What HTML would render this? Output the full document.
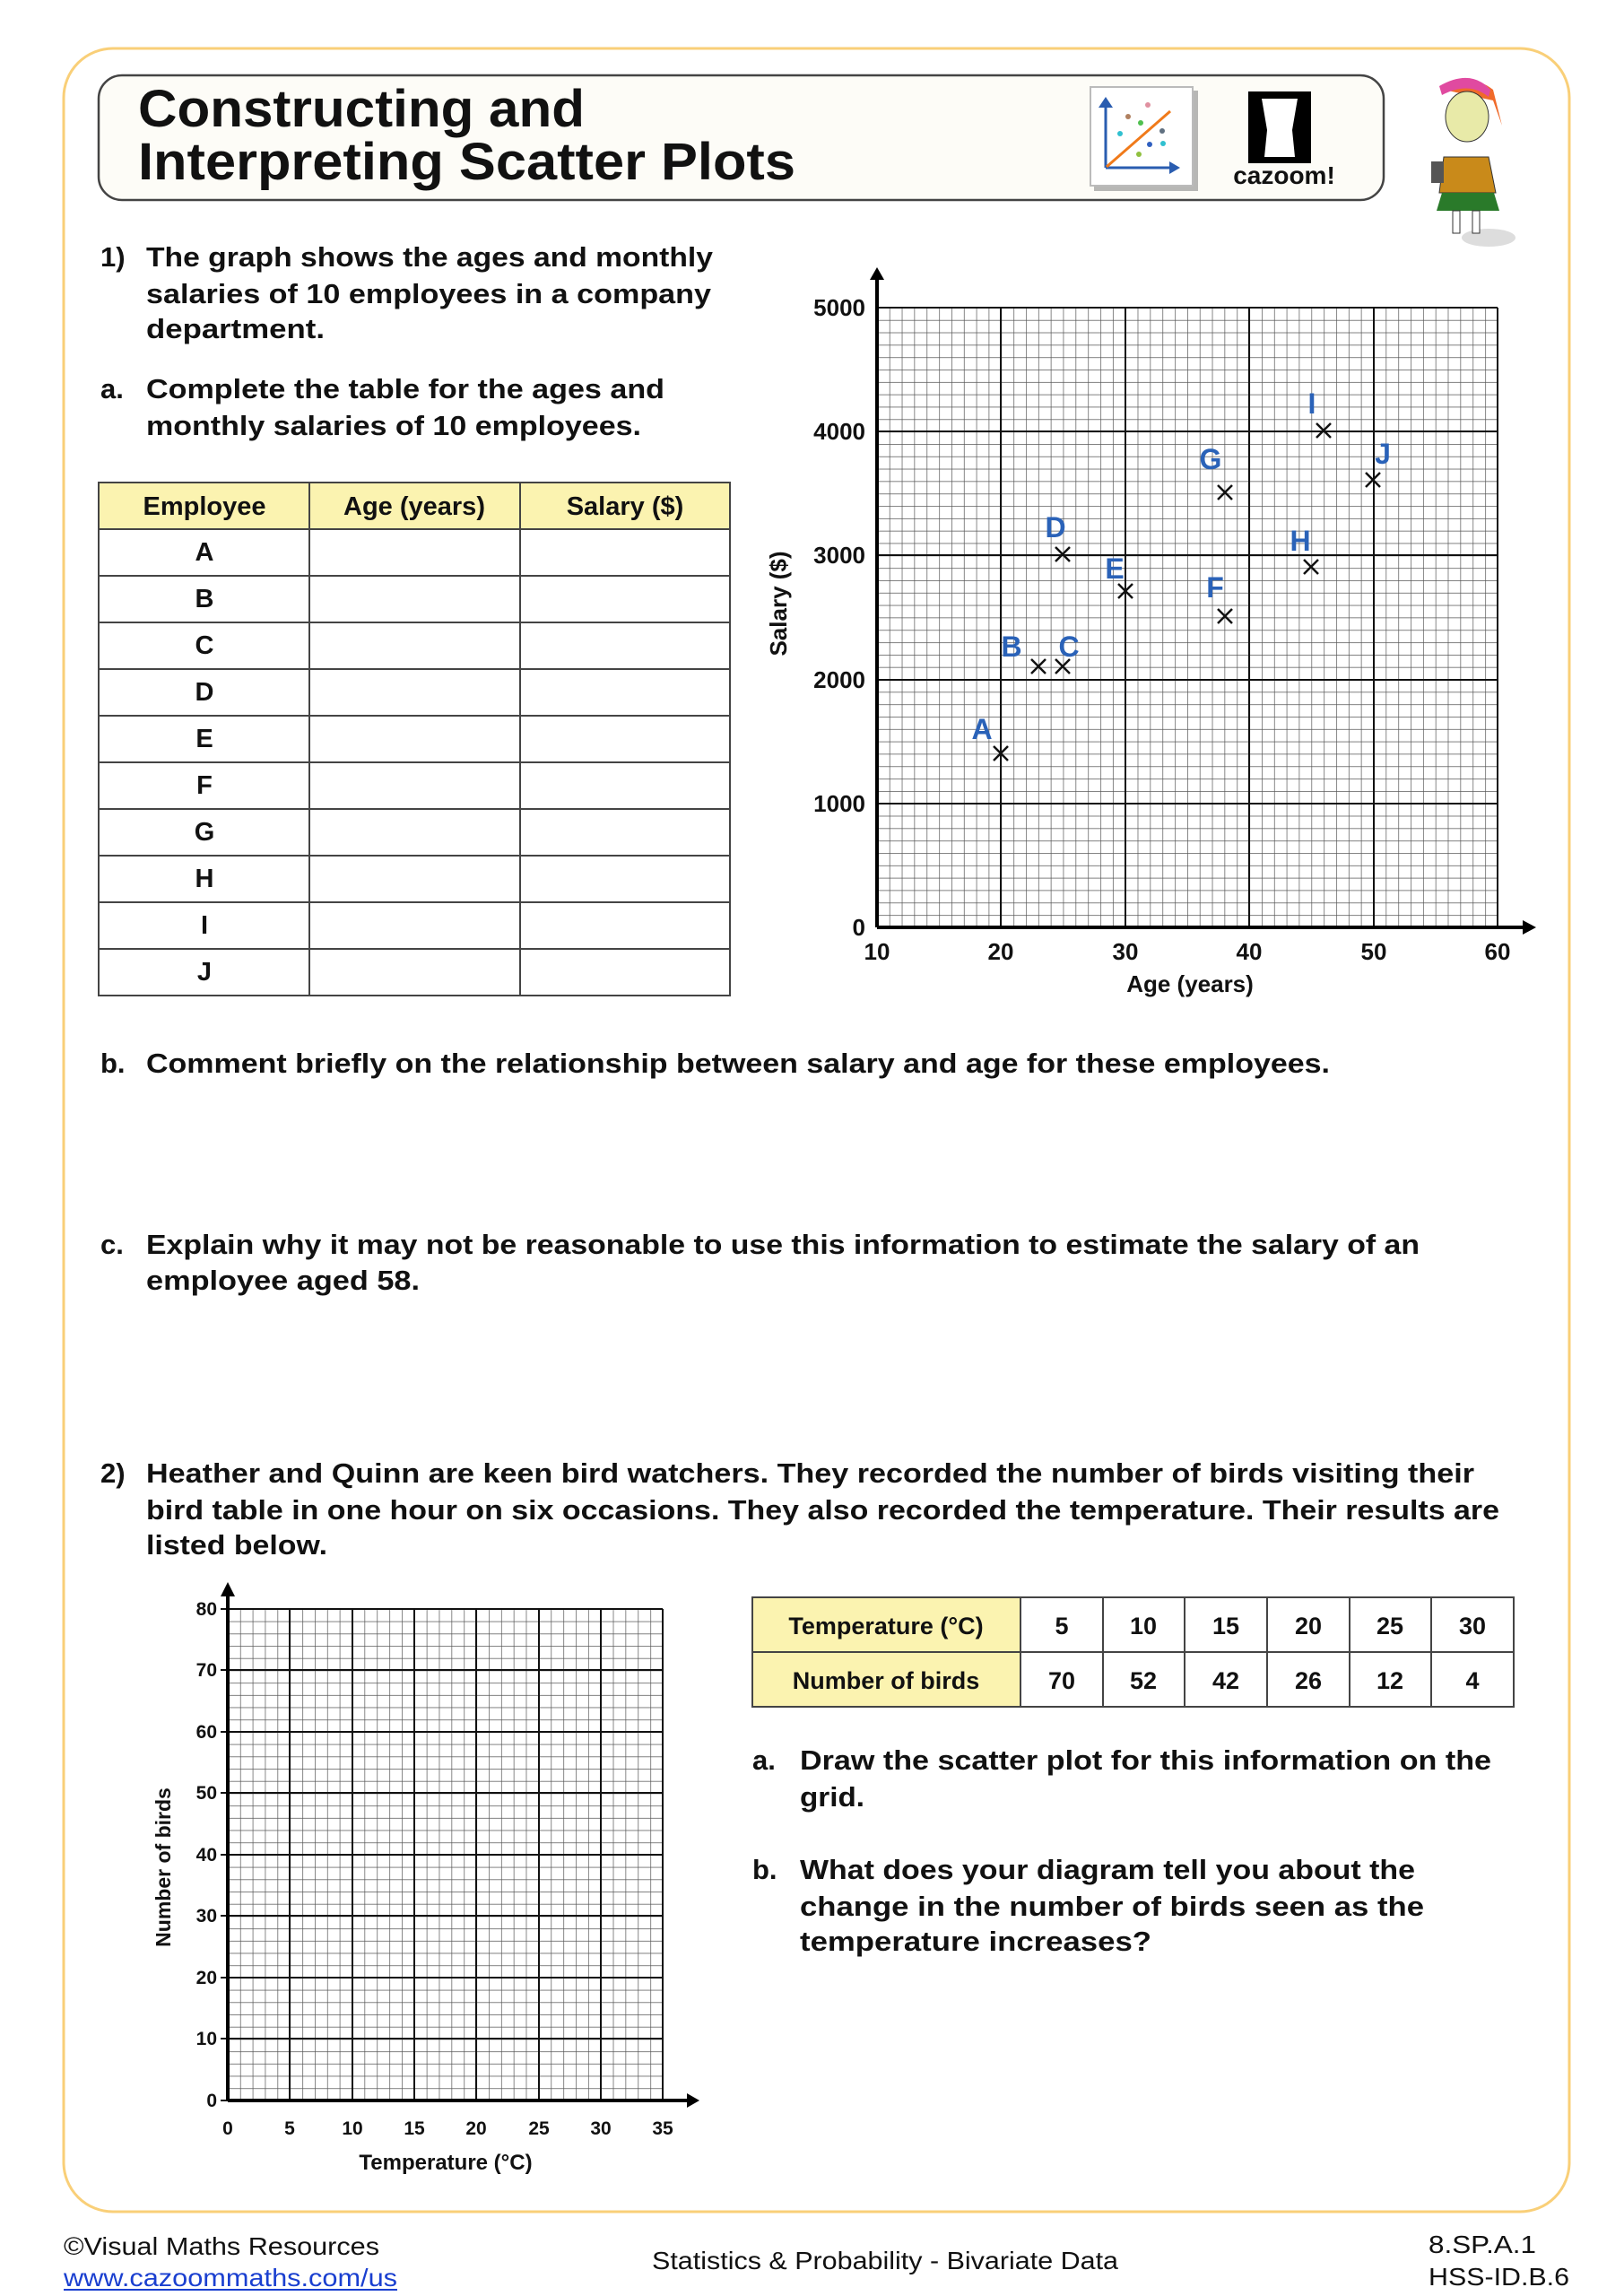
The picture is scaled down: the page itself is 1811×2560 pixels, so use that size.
<!DOCTYPE html>
<html><head><meta charset="utf-8"><style>
html,body{margin:0;padding:0;background:#fff;}
svg{display:block;}
text{font-family:"Liberation Sans",Arial,sans-serif;}
.b{font-weight:bold;fill:#111;}
</style></head><body>
<svg width="1811" height="2560" viewBox="0 0 1811 2560" xmlns="http://www.w3.org/2000/svg">
<defs>
<pattern id="g1" x="978" y="343" width="13.84" height="13.82" patternUnits="userSpaceOnUse">
<path d="M0 0V13.82M0 0H13.84" stroke="#555" stroke-width="1.4" fill="none"/>
</pattern>
<pattern id="g2" x="254" y="1794" width="13.86" height="13.7" patternUnits="userSpaceOnUse">
<path d="M0 0V13.7M0 0H13.86" stroke="#555" stroke-width="1.4" fill="none"/>
</pattern>
</defs>
<rect x="0" y="0" width="1811" height="2560" fill="#fff"/>
<rect x="71" y="54" width="1679" height="2412" rx="55" fill="none" stroke="#f9cf78" stroke-width="3"/>
<rect x="110" y="84" width="1433" height="139" rx="26" fill="#fdfcf7" stroke="#444" stroke-width="2.5"/>
<text class="b" x="154" y="141" font-size="58" textLength="498" lengthAdjust="spacingAndGlyphs">Constructing and</text>
<text class="b" x="154" y="200" font-size="58" textLength="733" lengthAdjust="spacingAndGlyphs">Interpreting Scatter Plots</text>
<rect x="1220" y="101" width="116" height="112" fill="#888" opacity="0.6"/>
<rect x="1216" y="97" width="114" height="110" fill="#fff" stroke="#bbb" stroke-width="2"/>
<path d="M1233 187V118M1233 187H1306" stroke="#2a5db0" stroke-width="3" fill="none"/>
<path d="M1225 120L1233 108L1241 120Z M1304 180L1316 187L1304 194Z" fill="#2a5db0"/>
<line x1="1234" y1="186" x2="1305" y2="124" stroke="#f07a1a" stroke-width="3"/>
<circle cx="1280" cy="117" r="3" fill="#e090a0"/><circle cx="1258" cy="130" r="3" fill="#b08060"/>
<circle cx="1272" cy="137" r="3" fill="#50c050"/><circle cx="1249" cy="149" r="3" fill="#30c0d0"/>
<circle cx="1296" cy="146" r="3" fill="#607080"/><circle cx="1282" cy="161" r="3" fill="#3060c0"/>
<circle cx="1297" cy="160" r="3" fill="#30c0d0"/><circle cx="1270" cy="172" r="3" fill="#90c040"/>
<rect x="1392" y="102" width="70" height="80" fill="#000"/>
<path d="M1407 110H1447L1441 145L1444 175H1410L1413 145Z" fill="#fff"/>
<text x="1432" y="205" font-size="28" font-weight="bold" text-anchor="middle" font-family="Liberation Serif,serif" fill="#111">cazoom!</text>
<ellipse cx="1660" cy="265" rx="30" ry="10" fill="#ddd"/>
<path d="M1610 100Q1640 80 1665 100L1675 140L1665 112Z" fill="#f06a2a"/>
<path d="M1605 96Q1640 76 1662 100L1660 108Q1638 90 1608 106Z" fill="#e04aa0"/>
<ellipse cx="1636" cy="130" rx="24" ry="28" fill="#e8eaa8" stroke="#333"/>
<path d="M1610 175L1660 175L1668 215L1605 215Z" fill="#c98a1a" stroke="#333"/>
<path d="M1608 215L1666 215L1672 235L1602 235Z" fill="#2a7a2a"/>
<rect x="1620" y="235" width="8" height="25" fill="#fff" stroke="#333"/><rect x="1642" y="235" width="8" height="25" fill="#fff" stroke="#333"/>
<rect x="1596" y="180" width="14" height="24" fill="#555"/>
<text class="b" x="112" y="297" font-size="31">1)</text>
<text class="b" x="163" y="297" font-size="31" textLength="632" lengthAdjust="spacingAndGlyphs">The graph shows the ages and monthly</text>
<text class="b" x="163" y="338" font-size="31" textLength="630" lengthAdjust="spacingAndGlyphs">salaries of 10 employees in a company</text>
<text class="b" x="163" y="377" font-size="31" textLength="199" lengthAdjust="spacingAndGlyphs">department.</text>
<text class="b" x="112" y="444" font-size="31">a.</text>
<text class="b" x="163" y="444" font-size="31" textLength="578" lengthAdjust="spacingAndGlyphs">Complete the table for the ages and</text>
<text class="b" x="163" y="485" font-size="31" textLength="552" lengthAdjust="spacingAndGlyphs">monthly salaries of 10 employees.</text>
<rect x="110" y="538" width="704" height="52" fill="#fbf3b0"/>
<g stroke="#444" stroke-width="2" fill="none">
<rect x="110" y="538" width="704" height="572"/>
<path d="M345 538V1110M580 538V1110"/>
<path d="M110 590H814M110 642H814M110 694H814M110 746H814M110 798H814M110 850H814M110 902H814M110 954H814M110 1006H814M110 1058H814"/>
</g>
<g font-size="29" text-anchor="middle" class="b">
<text x="228" y="574" style="font-weight:600">Employee</text>
<text x="462" y="574" style="font-weight:600">Age (years)</text>
<text x="697" y="574" style="font-weight:600">Salary ($)</text>
<text x="228" y="625">A</text><text x="228" y="677">B</text><text x="228" y="729">C</text>
<text x="228" y="781">D</text><text x="228" y="833">E</text><text x="228" y="885">F</text>
<text x="228" y="937">G</text><text x="228" y="989">H</text><text x="228" y="1041">I</text>
<text x="228" y="1093">J</text>
</g>
<rect x="978" y="343" width="692" height="691" fill="url(#g1)"/>
<g stroke="#111" stroke-width="2" fill="none">
<path d="M978 343H1670M1670 343V1034"/>
<path d="M1116 343V1034M1255 343V1034M1393 343V1034M1532 343V1034"/>
<path d="M978 481H1670M978 619H1670M978 758H1670M978 896H1670"/>
</g>
<path d="M978 1034V308M978 1034H1702" stroke="#000" stroke-width="4" fill="none"/>
<path d="M970 312L978 298L986 312Z M1698 1026L1713 1034L1698 1042Z" fill="#000"/>
<g class="b" font-size="26" text-anchor="end">
<text x="965" y="352">5000</text><text x="965" y="490">4000</text><text x="965" y="628">3000</text>
<text x="965" y="767">2000</text><text x="965" y="905">1000</text><text x="965" y="1043">0</text>
</g>
<g class="b" font-size="26" text-anchor="middle">
<text x="978" y="1070">10</text><text x="1116" y="1070">20</text><text x="1255" y="1070">30</text>
<text x="1393" y="1070">40</text><text x="1532" y="1070">50</text><text x="1670" y="1070">60</text>
<text x="1327" y="1106">Age (years)</text>
</g>
<text class="b" font-size="26" text-anchor="middle" transform="translate(877,673) rotate(-90)">Salary ($)</text>
<g stroke="#111" stroke-width="2.5">
<path d="M1108 832l16 16m0 -16l-16 16"/>
<path d="M1150 735l16 16m0 -16l-16 16"/>
<path d="M1177 735l16 16m0 -16l-16 16"/>
<path d="M1177 610l16 16m0 -16l-16 16"/>
<path d="M1247 651l16 16m0 -16l-16 16"/>
<path d="M1358 679l16 16m0 -16l-16 16"/>
<path d="M1358 541l16 16m0 -16l-16 16"/>
<path d="M1454 624l16 16m0 -16l-16 16"/>
<path d="M1468 472l16 16m0 -16l-16 16"/>
<path d="M1523 527l16 16m0 -16l-16 16"/>
</g>
<g font-size="32" font-weight="bold" fill="#2a62b8" text-anchor="middle">
<text x="1095" y="824">A</text><text x="1128" y="732">B</text><text x="1192" y="732">C</text>
<text x="1177" y="599">D</text><text x="1243" y="645">E</text><text x="1355" y="666">F</text>
<text x="1350" y="523">G</text><text x="1450" y="614">H</text><text x="1463" y="461">I</text><text x="1542" y="517">J</text>
</g>
<text class="b" x="112" y="1196" font-size="31">b.</text>
<text class="b" x="163" y="1196" font-size="31" textLength="1320" lengthAdjust="spacingAndGlyphs">Comment briefly on the relationship between salary and age for these employees.</text>
<text class="b" x="112" y="1398" font-size="31">c.</text>
<text class="b" x="163" y="1398" font-size="31" textLength="1420" lengthAdjust="spacingAndGlyphs">Explain why it may not be reasonable to use this information to estimate the salary of an</text>
<text class="b" x="163" y="1438" font-size="31" textLength="305" lengthAdjust="spacingAndGlyphs">employee aged 58.</text>
<text class="b" x="112" y="1653" font-size="31">2)</text>
<text class="b" x="163" y="1653" font-size="31" textLength="1481" lengthAdjust="spacingAndGlyphs">Heather and Quinn are keen bird watchers. They recorded the number of birds visiting their</text>
<text class="b" x="163" y="1694" font-size="31" textLength="1509" lengthAdjust="spacingAndGlyphs">bird table in one hour on six occasions. They also recorded the temperature. Their results are</text>
<text class="b" x="163" y="1733" font-size="31" textLength="202" lengthAdjust="spacingAndGlyphs">listed below.</text>
<rect x="254" y="1794" width="485" height="548" fill="url(#g2)"/>
<g stroke="#111" stroke-width="2" fill="none">
<path d="M254 1794H739M739 1794V2342"/>
<path d="M323 1794V2342M393 1794V2342M462 1794V2342M531 1794V2342M601 1794V2342M670 1794V2342"/>
<path d="M254 1862H739M254 1931H739M254 1999H739M254 2068H739M254 2136H739M254 2205H739M254 2273H739"/>
<path d="M246 1794H254M246 1862H254M246 1931H254M246 1999H254M246 2068H254M246 2136H254M246 2205H254M246 2273H254M246 2342H254"/>
</g>
<path d="M254 2342V1775M254 2342H770" stroke="#000" stroke-width="4" fill="none"/>
<path d="M246 1780L254 1764L262 1780Z M766 2334L780 2342L766 2350Z" fill="#000"/>
<g class="b" font-size="21" text-anchor="end">
<text x="242" y="1801">80</text><text x="242" y="1869">70</text><text x="242" y="1938">60</text>
<text x="242" y="2006">50</text><text x="242" y="2075">40</text><text x="242" y="2143">30</text>
<text x="242" y="2212">20</text><text x="242" y="2280">10</text><text x="242" y="2349">0</text>
</g>
<g class="b" font-size="21" text-anchor="middle">
<text x="254" y="2380">0</text><text x="323" y="2380">5</text><text x="393" y="2380">10</text>
<text x="462" y="2380">15</text><text x="531" y="2380">20</text><text x="601" y="2380">25</text>
<text x="670" y="2380">30</text><text x="739" y="2380">35</text>
<text x="497" y="2419" font-size="24">Temperature (°C)</text>
</g>
<text class="b" font-size="23" text-anchor="middle" transform="translate(190,2082) rotate(-90)">Number of birds</text>
<rect x="839" y="1781" width="299" height="122" fill="#fbf3b0"/>
<g stroke="#444" stroke-width="2" fill="none">
<rect x="839" y="1781" width="849" height="122"/>
<path d="M839 1842H1688M1138 1781V1903M1230 1781V1903M1321 1781V1903M1413 1781V1903M1505 1781V1903M1596 1781V1903"/>
</g>
<g font-size="27" text-anchor="middle" fill="#111" style="font-weight:600">
<text x="988" y="1822">Temperature (°C)</text><text x="988" y="1883">Number of birds</text>
<text x="1184" y="1822">5</text><text x="1275" y="1822">10</text><text x="1367" y="1822">15</text><text x="1459" y="1822">20</text><text x="1550" y="1822">25</text><text x="1642" y="1822">30</text>
<text x="1184" y="1883">70</text><text x="1275" y="1883">52</text><text x="1367" y="1883">42</text><text x="1459" y="1883">26</text><text x="1550" y="1883">12</text><text x="1642" y="1883">4</text>
</g>
<text class="b" x="839" y="1973" font-size="31">a.</text>
<text class="b" x="892" y="1973" font-size="31" textLength="771" lengthAdjust="spacingAndGlyphs">Draw the scatter plot for this information on the</text>
<text class="b" x="892" y="2014" font-size="31" textLength="72" lengthAdjust="spacingAndGlyphs">grid.</text>
<text class="b" x="839" y="2095" font-size="31">b.</text>
<text class="b" x="892" y="2095" font-size="31" textLength="686" lengthAdjust="spacingAndGlyphs">What does your diagram tell you about the</text>
<text class="b" x="892" y="2136" font-size="31" textLength="696" lengthAdjust="spacingAndGlyphs">change in the number of birds seen as the</text>
<text class="b" x="892" y="2175" font-size="31" textLength="392" lengthAdjust="spacingAndGlyphs">temperature increases?</text>
<text x="71" y="2514" font-size="28" fill="#111" textLength="352" lengthAdjust="spacingAndGlyphs">©Visual Maths Resources</text>
<text x="71" y="2549" font-size="28" fill="#1a3fd0" textLength="372" lengthAdjust="spacingAndGlyphs">www.cazoommaths.com/us</text>
<path d="M71 2553H443" stroke="#1a3fd0" stroke-width="2"/>
<text x="987" y="2530" font-size="28" fill="#111" text-anchor="middle" textLength="520" lengthAdjust="spacingAndGlyphs">Statistics &amp; Probability - Bivariate Data</text>
<text x="1593" y="2512" font-size="28" fill="#111" textLength="120" lengthAdjust="spacingAndGlyphs">8.SP.A.1</text>
<text x="1593" y="2548" font-size="28" fill="#111" textLength="157" lengthAdjust="spacingAndGlyphs">HSS-ID.B.6</text>
</svg>
</body></html>
